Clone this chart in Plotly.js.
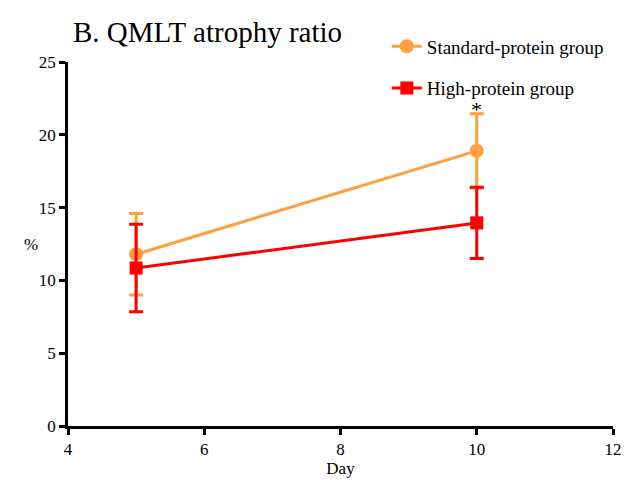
<!DOCTYPE html>
<html><head><meta charset="utf-8">
<script src="https://cdn.plot.ly/plotly-3.0.1.min.js"></script>
<style>body{margin:0;padding:0;background:#fff}#c{width:633px;height:480px}</style>
</head><body><div id="c"></div>
<script>
const days = [5, 10];
const standardMean = [11.8, 18.9];
const standardErr = [2.8, 2.55];
const highMean = [10.85, 13.95];
const highErr = [3.0, 2.45];
const seriesNames = ['Standard-protein group', 'High-protein group'];
const xTicks = [4, 6, 8, 10, 12];
const yTicks = [0, 5, 10, 15, 20, 25];
const sigDay = 10, sigLabel = '*', sigY = 21.75;

const font = 'Liberation Serif';
const traces = [
  {x: days, y: standardMean, name: seriesNames[0], legendgroup: 'a', mode: 'lines+markers',
   line: {color: '#FFA040', width: 3}, marker: {color: '#FFA040', symbol: 'circle', size: 14},
   error_y: {type: 'data', array: standardErr, color: '#FFA040', thickness: 3, width: 7}},
  {x: days, y: highMean, name: seriesNames[1], legendgroup: 'b', mode: 'lines+markers',
   line: {color: '#FF0000', width: 3}, marker: {color: '#FF0000', symbol: 'square', size: 13},
   error_y: {type: 'data', array: highErr, color: '#FF0000', thickness: 3, width: 7}}
];
const layout = {
  width: 633, height: 480,
  margin: {l: 68, r: 20, t: 62, b: 54},
  paper_bgcolor: '#fff', plot_bgcolor: '#fff',
  font: {family: font, size: 16, color: '#000'},
  title: {text: 'B. QMLT atrophy ratio', x: 73/633, xanchor: 'left', y: 0.912, yanchor: 'bottom', font: {family: font, size: 29, color: '#000'}},
  xaxis: {range: [4, 12], tickvals: xTicks, showgrid: false, zeroline: false, showline: true, linecolor: '#000', linewidth: 2.5,
    ticks: 'outside', ticklen: 6, tickwidth: 2.5, tickcolor: '#000', tickfont: {family: font, size: 17},
    title: {text: 'Day', font: {family: font, size: 17}, standoff: 4}},
  yaxis: {range: [0, 25], tickvals: yTicks, showgrid: false, zeroline: false, showline: true, linecolor: '#000', linewidth: 2.5,
    ticks: 'outside', ticklen: 6, tickwidth: 2.5, tickcolor: '#000', tickfont: {family: font, size: 17}},
  showlegend: true,
  legend: {x: 0.585, y: 1.095, xanchor: 'left', yanchor: 'top', font: {family: font, size: 19}, tracegroupgap: 14, bgcolor: 'rgba(0,0,0,0)'},
  annotations: [
    {x: sigDay, y: sigY, xref: 'x', yref: 'y', text: sigLabel, showarrow: false, font: {family: font, size: 22}},
    {x: -0.085, y: 0.5, xref: 'paper', yref: 'paper', text: '%', showarrow: false, font: {family: font, size: 17}}
  ]
};
Plotly.newPlot('c', traces, layout, {displayModeBar: false});
</script></body></html>
